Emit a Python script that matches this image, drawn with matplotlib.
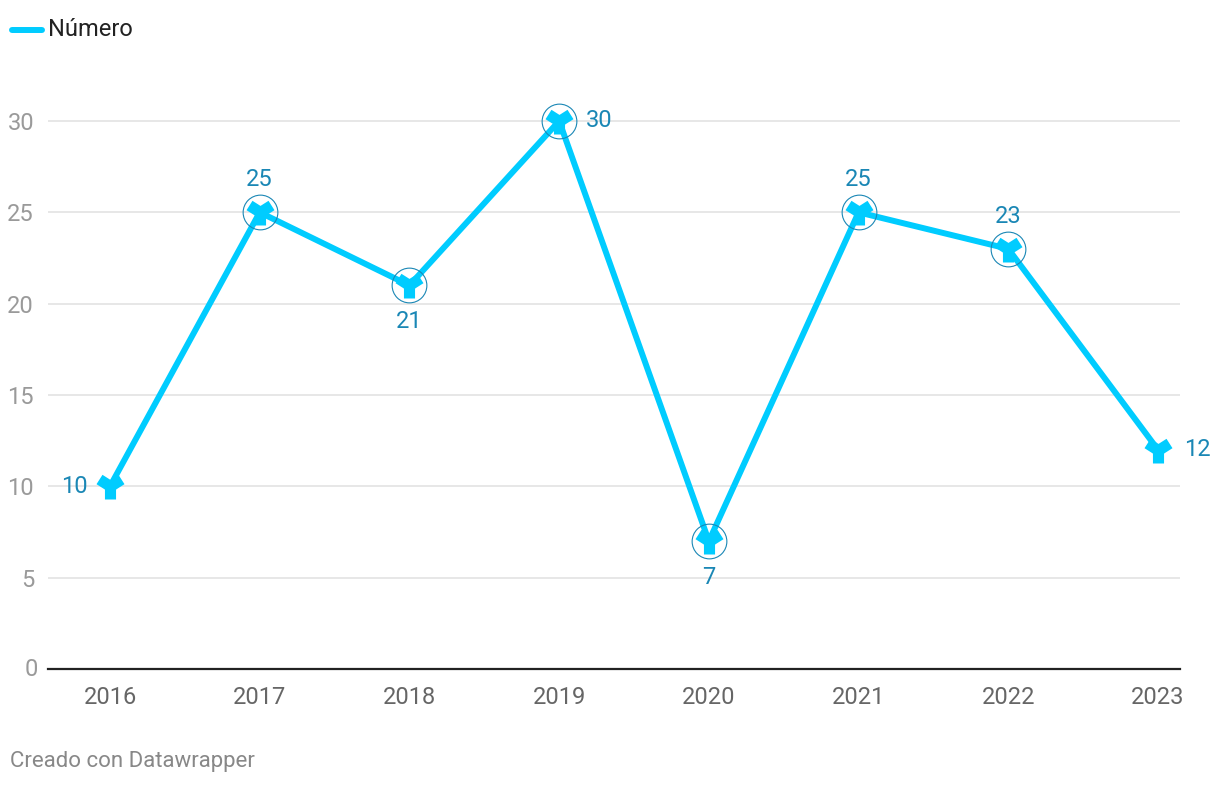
import matplotlib
matplotlib.use("Agg")
import matplotlib.pyplot as plt

plt.rcParams['font.family'] = ['Roboto', 'DejaVu Sans']

# datos
anios = [2016, 2017, 2018, 2019, 2020, 2021, 2022, 2023]
numero = [10, 25, 21, 30, 7, 25, 23, 12]
# posición de cada etiqueta: izquierda, arriba, abajo, derecha
posiciones = ["left", "top", "bottom", "right", "bottom", "top", "top", "right"]
con_circulo = [False, True, True, True, True, True, True, False]
y_ticks = [0, 5, 10, 15, 20, 25, 30]

color_linea = "#00ccff"
color_etiqueta = "#1a87b5"

W, H = 1220, 786
fig = plt.figure(figsize=(W / 100, H / 100), dpi=100)
ax = fig.add_axes([48 / W, 1 - 669 / H, (1180 - 48) / W, (669 - 100) / H])

ax.plot(anios, numero, color=color_linea, linewidth=4.3, solid_capstyle="butt", zorder=3)
ax.plot(anios, numero, linestyle="none", marker="1", markersize=19, markeredgewidth=8,
        color=color_linea, zorder=4)
for x, y, c in zip(anios, numero, con_circulo):
    if c:
        ax.plot([x], [y], linestyle="none", marker="o", markersize=25, markerfacecolor="none",
                markeredgecolor=color_etiqueta, markeredgewidth=0.8, zorder=5)

fs = 17
for x, y, p in zip(anios, numero, posiciones):
    if p == "top":
        ax.annotate(str(y), (x, y), xytext=(0, 15), textcoords="offset points",
                    ha="center", va="bottom", fontsize=fs, color=color_etiqueta)
    elif p == "bottom":
        ax.annotate(str(y), (x, y), xytext=(0, -18), textcoords="offset points",
                    ha="center", va="top", fontsize=fs, color=color_etiqueta)
    elif p == "left":
        ax.annotate(str(y), (x, y), xytext=(-16, 0), textcoords="offset points",
                    ha="right", va="center", fontsize=fs, color=color_etiqueta)
    else:
        ax.annotate(str(y), (x, y), xytext=(19, 0), textcoords="offset points",
                    ha="left", va="center", fontsize=fs, color=color_etiqueta)

ax.set_xlim(2016 - 62 / 149.7, 2023 + 22 / 149.7)
ax.set_ylim(0, 30 + 21 / 18.27)

for s in ["top", "right", "left"]:
    ax.spines[s].set_visible(False)
ax.spines["bottom"].set_color("#222222")
ax.spines["bottom"].set_linewidth(1.6)

ax.set_yticks(y_ticks[1:])
ax.yaxis.grid(True, color="#e0e0e0", linewidth=1.1)
ax.set_axisbelow(True)
ax.tick_params(axis="y", length=0, pad=10, labelsize=fs, labelcolor="#9a9a9a")
ax.set_yticklabels([str(v) for v in y_ticks[1:]])
ax.text(-0.009, 0, "0", transform=ax.get_yaxis_transform(), ha="right", va="center",
        fontsize=fs, color="#9a9a9a")
for lbl in ax.get_yticklabels():
    lbl.set_horizontalalignment("right")

ax.set_xticks(anios)
ax.set_xticklabels([str(a) for a in anios])
ax.tick_params(axis="x", length=0, pad=12, labelsize=fs, labelcolor="#666666")

# leyenda
fig.lines.append(plt.Line2D([12 / W, 42 / W], [1 - 30 / H, 1 - 30 / H], transform=fig.transFigure,
                            color=color_linea, linewidth=4.3, solid_capstyle="round"))
fig.text(48 / W, 1 - 30 / H, "Número", ha="left", va="center", fontsize=fs, color="#222222")

fig.text(10 / W, 1 - 762 / H, "Creado con Datawrapper", ha="left", va="center", fontsize=16,
         color="#888888")

fig.savefig("out.png", dpi=100)
